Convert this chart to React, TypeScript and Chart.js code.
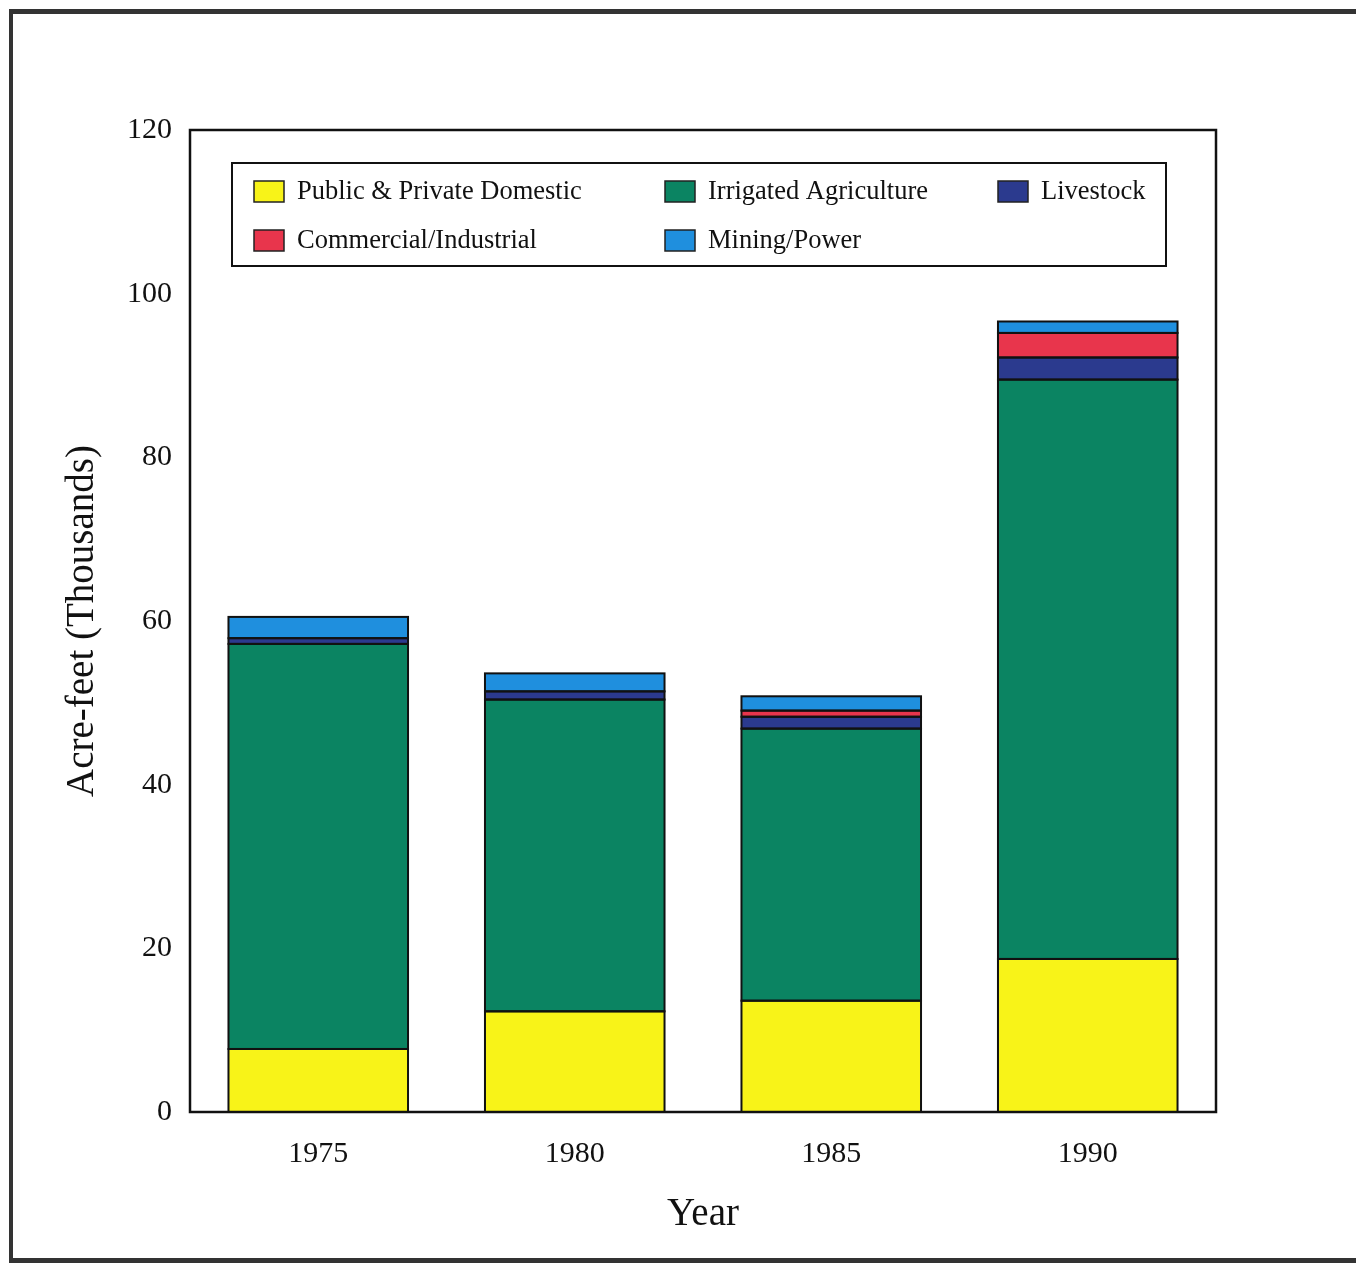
import { useEffect, useRef } from "react";
import { Chart, registerables } from "chart.js";
Chart.register(...registerables);

const years = ["1975", "1980", "1985", "1990"];
const domestic = [7.7, 12.3, 13.6, 18.7];
const irrigated = [49.5, 38.1, 33.25, 70.8];
const livestock = [0.7, 1.0, 1.45, 2.7];
const commercial = [0, 0, 0.75, 3.0];
const mining = [2.6, 2.2, 1.75, 1.4];
const seriesLabels = [
  "Public & Private Domestic",
  "Irrigated Agriculture",
  "Livestock",
  "Commercial/Industrial",
  "Mining/Power",
];
const seriesColors = ["#f8f318", "#0b8462", "#2b3a8e", "#e8354c", "#1f8fde"];
const yMin = 0;
const yMax = 120;
const yStep = 20;

const FONT = "'Liberation Serif', 'Times New Roman', serif";

const barOutlines = {
  id: "barOutlines",
  afterDatasetsDraw(chart: any) {
    const { ctx } = chart;
    ctx.save();
    ctx.strokeStyle = "#111";
    ctx.lineWidth = 2;
    chart.data.datasets.forEach((_ds: any, di: number) => {
      const meta = chart.getDatasetMeta(di);
      meta.data.forEach((el: any) => {
        const p = el.getProps(["x", "y", "base", "width"], true);
        const h = Math.abs(p.base - p.y);
        if (!(h > 0.01)) return;
        const top = Math.min(p.y, p.base);
        ctx.strokeRect(p.x - p.width / 2, top, p.width, h);
      });
    });
    ctx.restore();
  },
};

const plotBox = {
  id: "plotBox",
  afterDatasetsDraw(chart: any) {
    const { ctx, chartArea: a } = chart;
    ctx.save();
    ctx.strokeStyle = "#111";
    ctx.lineWidth = 2.5;
    ctx.strokeRect(a.left, a.top, a.right - a.left, a.bottom - a.top);
    ctx.restore();
  },
};

const boxLegend = {
  id: "boxLegend",
  afterDraw(chart: any) {
    const { ctx, chartArea: a } = chart;
    const bx = a.left + 42;
    const by = a.top + 33;
    const bw = 934;
    const bh = 103;
    ctx.save();
    ctx.fillStyle = "#fff";
    ctx.fillRect(bx, by, bw, bh);
    ctx.strokeStyle = "#111";
    ctx.lineWidth = 2;
    ctx.strokeRect(bx, by, bw, bh);
    const cols = [22, 433, 766];
    const rows = [28, 77];
    ctx.font = `26.5px ${FONT}`;
    ctx.textBaseline = "middle";
    ctx.textAlign = "left";
    chart.data.datasets.forEach((ds: any, i: number) => {
      const cx = bx + cols[i % 3];
      const cy = by + rows[Math.floor(i / 3)];
      ctx.fillStyle = ds.backgroundColor;
      ctx.fillRect(cx, cy - 10, 30, 21);
      ctx.strokeStyle = "#222";
      ctx.lineWidth = 1.5;
      ctx.strokeRect(cx, cy - 10, 30, 21);
      ctx.fillStyle = "#111";
      ctx.fillText(ds.label, cx + 43, cy + 1);
    });
    ctx.restore();
  },
};

export default function App() {
  const ref = useRef<HTMLCanvasElement | null>(null);
  useEffect(() => {
    if (!ref.current) return;
    const seriesData = [domestic, irrigated, livestock, commercial, mining];
    const chart = new Chart(ref.current, {
      type: "bar",
      data: {
        labels: years,
        datasets: seriesData.map((d, i) => ({
          label: seriesLabels[i],
          data: d,
          backgroundColor: seriesColors[i],
          borderWidth: 0,
          barPercentage: 0.7,
          categoryPercentage: 1,
        })),
      },
      options: {
        animation: false,
        responsive: false,
        maintainAspectRatio: false,
        layout: { padding: { left: 0, top: 130, right: 140, bottom: 0 } },
        plugins: {
          legend: { display: false },
          tooltip: { enabled: false },
        },
        scales: {
          x: {
            stacked: true,
            grid: { display: false, drawTicks: false },
            border: { display: false },
            ticks: {
              color: "#111",
              font: { family: FONT, size: 30 },
              padding: 24,
            },
            title: {
              display: true,
              text: "Year",
              color: "#111",
              font: { family: FONT, size: 39 },
              padding: { top: 0, bottom: 26 },
            },
            afterFit: (s: any) => {
              s.height = 152;
            },
          },
          y: {
            stacked: true,
            min: yMin,
            max: yMax,
            grid: { display: false, drawTicks: false },
            border: { display: false },
            ticks: {
              stepSize: yStep,
              color: "#111",
              font: { family: FONT, size: 30 },
              padding: 18,
            },
            title: {
              display: true,
              text: "Acre-feet (Thousands)",
              color: "#111",
              font: { family: FONT, size: 39 },
              padding: { top: 59, bottom: 0 },
            },
            afterFit: (s: any) => {
              s.width = 190;
            },
          },
        },
      },
      plugins: [barOutlines, plotBox, boxLegend],
    });
    return () => chart.destroy();
  }, []);

  return (
    <div
      style={{
        position: "fixed",
        left: 0,
        top: 0,
        width: 1356,
        height: 1264,
        overflow: "hidden",
        background: "#fff",
      }}
    >
      <div
        style={{
          position: "absolute",
          left: 9,
          top: 9,
          width: 1400,
          height: 1244,
          borderTop: "5px solid #333",
          borderLeft: "4px solid #333",
          borderBottom: "5px solid #333",
        }}
      />
      <canvas
        ref={ref}
        width={1356}
        height={1264}
        style={{ position: "absolute", left: 0, top: 0, width: 1356, height: 1264 }}
      />
    </div>
  );
}
